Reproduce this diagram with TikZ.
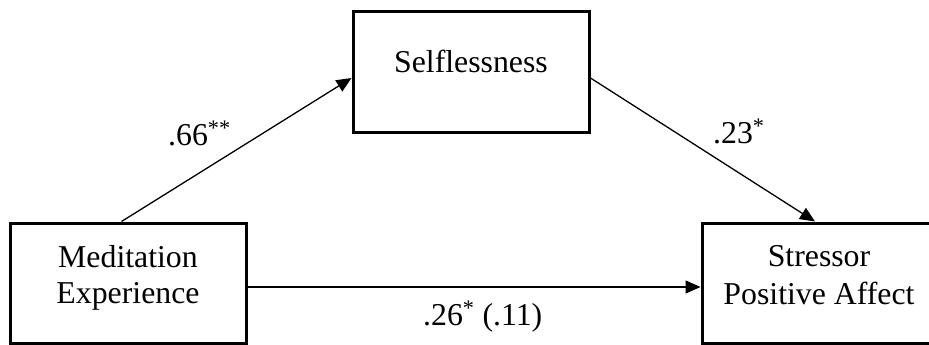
\documentclass[tikz,border=0pt]{standalone}
\usepackage{fontspec}
\setmainfont{Liberation Serif}
\usetikzlibrary{arrows.meta}
\begin{document}
\begin{tikzpicture}[x=1pt,y=-1pt,
  box/.style={draw,line width=3pt,minimum width=236pt,minimum height=120pt,inner sep=0pt},
  txt/.style={font=\fontsize{31.8}{36}\selectfont,inner sep=0pt,anchor=base},
  lab/.style={font=\fontsize{31.8}{36}\selectfont,inner sep=0pt,anchor=base west},
  arr/.style={line width=1.3pt,-{Triangle[length=15pt,width=13pt]}}]
\useasboundingbox (0,0) rectangle (929,345);
\node[box] (sel) at (471,72) {};
\node[box] (med) at (128,283) {};
\node[box] (str) at (820,283) {};
\node[txt] (selt) at (471,73) {Selflessness};
\node[txt] (medt1) at (128,267) {Meditation};
\node[txt] (medt2) at (128,303) {Experience};
\node[txt] (strt1) at (819,266) {Stressor};
\node[txt] (strt2) at (819,304) {Positive Affect};
\draw[arr] ([xshift=113pt]med.north west) -- ([yshift=-6pt]sel.west);
\draw[arr] ([yshift=-6pt]sel.east) -- ([xshift=-5pt]str.north);
\draw[arr] ([yshift=-4pt]med.east) -- ([yshift=-4pt]str.west);
\node[lab] (l1) at (168,145) {.66\textsuperscript{**}};
\node[lab] (l2) at (713,143) {.23\textsuperscript{*}};
\node[lab] (l3) at (423,325) {.26\textsuperscript{*} (.11)};
\end{tikzpicture}
\end{document}
